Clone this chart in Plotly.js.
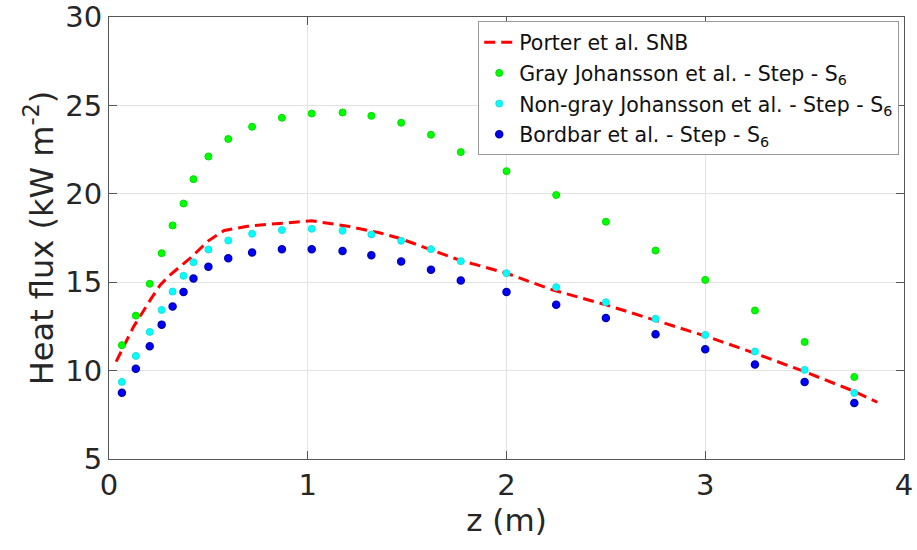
<!DOCTYPE html>
<html>
<head>
<meta charset="utf-8">
<script src="https://cdn.plot.ly/plotly-3.0.1.min.js"></script>
<style>html,body{margin:0;padding:0;background:#fff;}#chart{width:917px;height:550px;}</style>
</head>
<body>
<div id="chart"></div>
<script>
// Shared measurement positions (m) for the three S6 series
const zPts = [0.065, 0.135, 0.205, 0.265, 0.32, 0.375, 0.425, 0.5, 0.6, 0.72, 0.87, 1.02, 1.175, 1.32, 1.47, 1.62, 1.77, 2.0, 2.25, 2.5, 2.75, 3.0, 3.25, 3.5, 3.75];
const grayJohansson = [11.44, 13.11, 14.91, 16.64, 18.21, 19.45, 20.83, 22.11, 23.10, 23.79, 24.30, 24.54, 24.60, 24.41, 24.02, 23.34, 22.36, 21.28, 19.93, 18.42, 16.79, 15.13, 13.40, 11.62, 9.64];
const nonGrayJohansson = [9.36, 10.83, 12.19, 13.43, 14.47, 15.36, 16.13, 16.85, 17.36, 17.74, 17.95, 18.02, 17.91, 17.70, 17.34, 16.87, 16.19, 15.51, 14.72, 13.87, 12.93, 12.02, 11.08, 10.04, 8.74];
const bordbar = [8.75, 10.11, 11.38, 12.60, 13.62, 14.44, 15.21, 15.87, 16.36, 16.68, 16.87, 16.87, 16.76, 16.53, 16.17, 15.70, 15.09, 14.45, 13.72, 12.97, 12.06, 11.21, 10.34, 9.36, 8.17];

// Porter et al. SNB reference curve
const snbZ = [0.036, 0.124, 0.208, 0.258, 0.308, 0.409, 0.5, 0.58, 0.71, 0.87, 1.02, 1.2, 1.36, 1.46, 1.61, 1.76, 2.0, 2.23, 2.5, 2.66, 3.0, 3.24, 3.49, 3.74, 3.866];
const snbQ = [10.51, 12.49, 14.0, 14.85, 15.42, 16.36, 17.34, 17.93, 18.19, 18.34, 18.47, 18.17, 17.8, 17.49, 16.87, 16.26, 15.51, 14.57, 13.72, 13.15, 11.96, 11.02, 9.98, 8.87, 8.21];

const names = ['Porter et al. SNB', 'Gray Johansson et al. - Step - S<sub>6</sub>', 'Non-gray Johansson et al. - Step - S<sub>6</sub>', 'Bordbar et al. - Step - S<sub>6</sub>'];
const xTicks = [0, 1, 2, 3, 4];
const yTicks = [5, 10, 15, 20, 25, 30];

const font = 'DejaVu Sans, Arial, sans-serif';
const traces = [
  {x: snbZ, y: snbQ, name: names[0], legendgroup: 'a', mode: 'lines', type: 'scatter',
   line: {color: '#ff0000', width: 3, dash: '11px,6px'}},
  {x: zPts, y: grayJohansson, name: names[1], legendgroup: 'b', mode: 'markers', type: 'scatter',
   marker: {color: '#00ff00', size: 7, line: {color: '#00dd00', width: 1}}},
  {x: zPts, y: nonGrayJohansson, name: names[2], legendgroup: 'c', mode: 'markers', type: 'scatter',
   marker: {color: '#00ffff', size: 7, line: {color: '#22dddd', width: 1}}},
  {x: zPts, y: bordbar, name: names[3], legendgroup: 'd', mode: 'markers', type: 'scatter',
   marker: {color: '#0000ff', size: 7, line: {color: '#0000bb', width: 1.5}}}
];

const axisCommon = {
  showline: true, linecolor: '#555', linewidth: 1, mirror: 'ticks',
  ticks: 'inside', ticklen: 8, tickcolor: '#555', tickwidth: 1,
  showgrid: true, gridcolor: '#e3e3e3', gridwidth: 1, zeroline: false,
  tickfont: {family: font, size: 29, color: '#262626'}, automargin: false
};

const layout = {
  width: 917, height: 550,
  margin: {l: 108.5, r: 12.5, t: 17.3, b: 90.7},
  paper_bgcolor: '#ffffff', plot_bgcolor: '#ffffff',
  showlegend: true,
  xaxis: Object.assign({}, axisCommon, {
    range: [0, 4], tickvals: xTicks, ticktext: xTicks.map(String),
    title: {text: 'z (m)', font: {family: font, size: 31, color: '#262626'}, standoff: 2}
  }),
  yaxis: Object.assign({}, axisCommon, {
    range: [5, 30], tickvals: yTicks, ticktext: yTicks.map(String),
    title: {text: 'Heat flux (kW m<sup>-2</sup>)', font: {family: font, size: 32, color: '#262626'}, standoff: 2}
  }),
  legend: {
    x: 0.994, y: 0.99, xanchor: 'right', yanchor: 'top',
    bgcolor: '#ffffff', bordercolor: '#999', borderwidth: 1,
    font: {family: font, size: 20.5, color: '#111'},
    tracegroupgap: 1, itemwidth: 30
  }
};

Plotly.newPlot('chart', traces, layout, {displayModeBar: false, staticPlot: true});
</script>
</body>
</html>
